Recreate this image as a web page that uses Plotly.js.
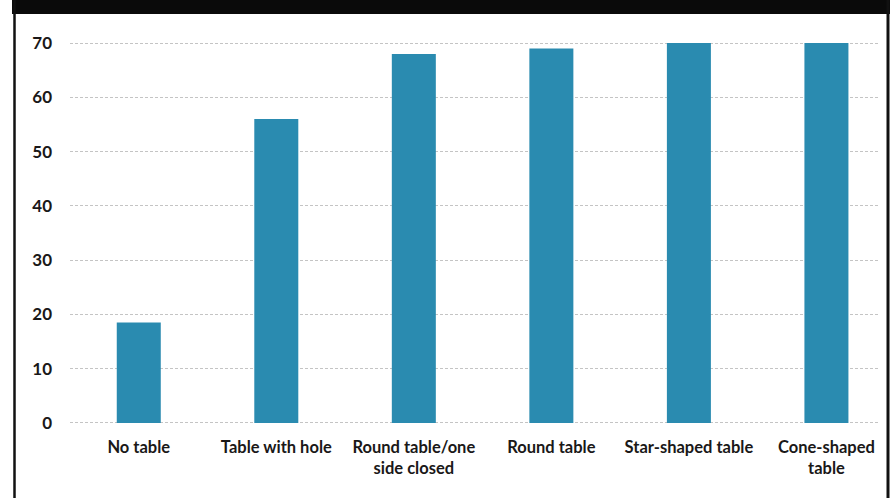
<!DOCTYPE html>
<html>
<head>
<meta charset="utf-8">
<script src="https://cdn.plot.ly/plotly-3.0.1.min.js"></script>
<style>
html,body{margin:0;padding:0;background:#fff;}
#chart{width:890px;height:498px;}
</style>
</head>
<body>
<div id="chart"></div>
<script>
const categories = ["No table", "Table with hole", "Round table/one<br>side closed", "Round table", "Star-shaped table", "Cone-shaped<br>table"];
const values = [18.5, 56, 68, 69, 70, 70];
const yTicks = [0, 10, 20, 30, 40, 50, 60, 70];

const W = 890, H = 498;
const M = {l: 70, r: 12, t: 42, b: 74};
const pw = W - M.l - M.r, ph = H - M.t - M.b;
const px = x => (x - M.l) / pw;
const py = y => (H - M.b - y) / ph;

const trace = {
  type: "bar",
  x: categories.map((c, i) => i),
  y: values,
  width: 0.32,
  marker: {color: "#2a8bb0", line: {width: 0}},
  hoverinfo: "skip"
};

const layout = {
  width: W, height: H,
  margin: M,
  paper_bgcolor: "#ffffff",
  plot_bgcolor: "#ffffff",
  showlegend: false,
  font: {family: "Lato, 'Open Sans', sans-serif", color: "#1e1c1c", size: 16},
  xaxis: {
    range: [-0.5, 5.375],
    tickmode: "array",
    tickvals: categories.map((c, i) => i),
    ticktext: categories,
    showgrid: false, zeroline: false, showline: false,
    ticks: "",
    ticklabelstandoff: 11,
    tickfont: {family: "Lato, sans-serif", size: 16.5, color: "#1a1818", weight: 700}
  },
  yaxis: {
    range: [-0.2, 70.2],
    tickmode: "array",
    tickvals: yTicks,
    ticktext: yTicks.map(String),
    showgrid: true, gridcolor: "#c4c4c4", gridwidth: 1, griddash: "3px,2px",
    zeroline: false, showline: false, ticks: "",
    ticklabelstandoff: 17,
    tickfont: {family: "Lato, sans-serif", size: 17, color: "#1a1818", weight: 700}
  },
  shapes: [
    {type: "rect", xref: "paper", yref: "paper", x0: px(12), x1: px(890), y0: py(0), y1: py(14), fillcolor: "#0a0a0a", line: {width: 0}, layer: "above"},
    {type: "line", xref: "paper", yref: "paper", x0: px(14.5), x1: px(14.5), y0: py(0), y1: py(498), line: {color: "#111", width: 2.5}, layer: "above"},
    {type: "line", xref: "paper", yref: "paper", x0: px(888), x1: px(888), y0: py(0), y1: py(498), line: {color: "#111", width: 3}, layer: "above"}
  ]
};

Plotly.newPlot("chart", [trace], layout, {displayModeBar: false, staticPlot: true});
</script>
</body>
</html>
